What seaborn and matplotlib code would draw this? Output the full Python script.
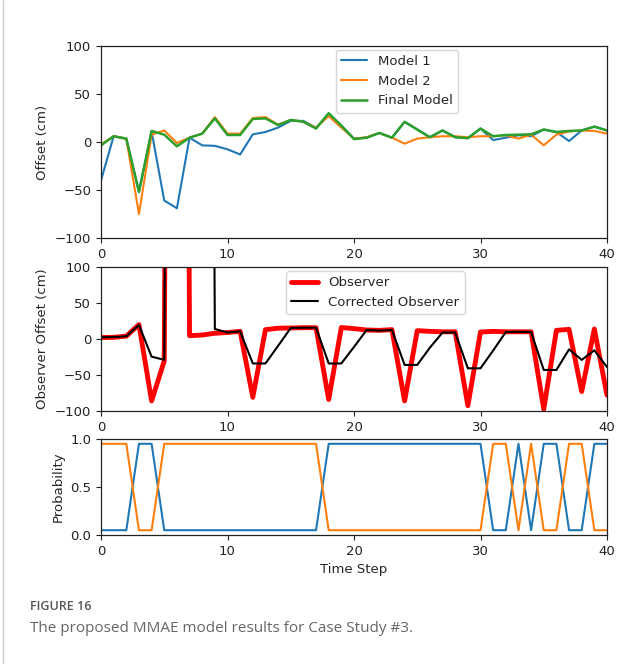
import numpy as np
import pandas as pd
import matplotlib
matplotlib.use("Agg")
import matplotlib.pyplot as plt
import seaborn as sns

# ---------------- data ----------------
t = list(range(41))

model1 = [-40, 6, 3.5, -52, 11, -61, -69, 4.5, -3.5, -4, -7.6, -13, 8, 10.4, 15, 22, 22, 14.6, 29.5, 17,
          3.5, 4.5, 9.4, 4.5, 21, 13, 5, 12, 5, 4, 14, 2, 4.5, 7, 6, 13, 10.4, 1, 12, 16, 12]
model2 = [-2.4, 6, 3.5, -75, 7.6, 12, -1, 4.5, 8.7, 26, 8.7, 8.7, 25, 26, 18, 23, 21, 15, 27, 15,
          3.5, 5, 9.4, 4.5, -1.7, 3.5, 5, 6, 6, 5, 6, 6, 7, 3.5, 7.6, -3.5, 7.6, 11, 12, 11.5, 8.7]
final_model = [-3.5, 6, 3.5, -52, 11.5, 7.6, -4.5, 4.5, 8.7, 24.6, 7.3, 7.3, 24, 24.6, 17.7, 23, 21, 14, 30, 17,
               3, 4.5, 9.4, 4.5, 21, 13, 5, 12, 5, 4, 14, 6, 7.3, 7.6, 8, 13, 10.4, 11.5, 12, 16, 12]

observer = [2, 2.3, 4, 20, -86, -30.5, 3000, 4.6, 5.5, 8, 9, 10.6, -81, 13, 15, 15.3, 15.7, 15.7, -84, 16,
            14.4, 12.5, 12, 13, -86, 11.6, 10.6, 10, 10, -92.6, 9.7, 10.6, 10, 10, 10, -97.7, 12, 13.4, -73, 13.9, -78]
corrected = [2.3, 2.8, 3.7, 19.4, -24.5, -29, 3000, 3000, 3000, 13.9, 9, 10.6, -34, -34, -9.5, 15.3, 15.7, 15.7, -34, -34,
             -11, 12.5, 11.6, 12.5, -36, -36, -12, 9, 9, -40.7, -40.7, -16, 9.7, 10, 9.7, -43, -43, -14.4, -29, -15.7, -39]

prob1 = [0.05, 0.05, 0.05, 0.95, 0.95, 0.05, 0.05, 0.05, 0.05, 0.05, 0.05, 0.05, 0.05, 0.05, 0.05, 0.05, 0.05, 0.05,
         0.95, 0.95, 0.95, 0.95, 0.95, 0.95, 0.95, 0.95, 0.95, 0.95, 0.95, 0.95, 0.95,
         0.05, 0.05, 0.95, 0.05, 0.95, 0.95, 0.05, 0.05, 0.95, 0.95]
prob2 = [0.95, 0.95, 0.95, 0.05, 0.05, 0.95, 0.95, 0.95, 0.95, 0.95, 0.95, 0.95, 0.95, 0.95, 0.95, 0.95, 0.95, 0.95,
         0.05, 0.05, 0.05, 0.05, 0.05, 0.05, 0.05, 0.05, 0.05, 0.05, 0.05, 0.05, 0.05,
         0.95, 0.95, 0.05, 0.95, 0.05, 0.05, 0.95, 0.95, 0.05, 0.05]

fig_label = "FIGURE 16"
caption = "The proposed MMAE model results for Case Study #3."

# ---------------- style ----------------
sns.set_style("ticks")
plt.rcParams['font.family'] = ['DejaVu Sans']
plt.rcParams['font.size'] = 9.5
plt.rcParams['axes.edgecolor'] = '#222222'
plt.rcParams['xtick.color'] = '#222222'
plt.rcParams['ytick.color'] = '#222222'

W, H = 638, 664
fig = plt.figure(figsize=(W / 100, H / 100), dpi=100)

def axes_px(left, top, right, bottom):
    return fig.add_axes([left / W, 1 - bottom / H, (right - left) / W, (bottom - top) / H])

ax1 = axes_px(101, 46, 607, 238)
ax2 = axes_px(101, 267, 607, 411)
ax3 = axes_px(101, 439, 607, 535)

blue, orange, green = '#1f77b4', '#ff7f0e', '#2ca02c'

df1 = pd.DataFrame({"t": t, "Model 1": model1, "Model 2": model2, "Final Model": final_model})
sns.lineplot(data=df1, x="t", y="Model 1", ax=ax1, color=blue, lw=1.5, label="Model 1")
sns.lineplot(data=df1, x="t", y="Model 2", ax=ax1, color=orange, lw=1.5, label="Model 2")
sns.lineplot(data=df1, x="t", y="Final Model", ax=ax1, color=green, lw=1.8, label="Final Model")
ax1.set_xlim(0, 40)
ax1.set_ylim(-100, 100)
ax1.set_yticks([-100, -50, 0, 50, 100])
ax1.set_xticks([0, 10, 20, 30, 40])
ax1.set_xlabel("")
ax1.set_ylabel("Offset (cm)")
ax1.legend(loc="upper left", bbox_to_anchor=(0.464, 0.98), borderaxespad=0, frameon=True)

df2 = pd.DataFrame({"t": t, "Observer": observer, "Corrected": corrected})
sns.lineplot(data=df2, x="t", y="Observer", ax=ax2, color='red', lw=3.5, label="Observer")
sns.lineplot(data=df2, x="t", y="Corrected", ax=ax2, color='black', lw=1.5, label="Corrected Observer")
ax2.set_xlim(0, 40)
ax2.set_ylim(-100, 100)
ax2.set_yticks([-100, -50, 0, 50, 100])
ax2.set_xticks([0, 10, 20, 30, 40])
ax2.set_xlabel("")
ax2.set_ylabel("Observer Offset (cm)")
ax2.legend(loc="upper left", bbox_to_anchor=(0.366, 0.972), borderaxespad=0, frameon=True)

df3 = pd.DataFrame({"t": t, "p1": prob1, "p2": prob2})
sns.lineplot(data=df3, x="t", y="p1", ax=ax3, color=blue, lw=1.5)
sns.lineplot(data=df3, x="t", y="p2", ax=ax3, color=orange, lw=1.5)
ax3.set_xlim(0, 40)
ax3.set_ylim(0, 1)
ax3.set_yticks([0.0, 0.5, 1.0])
ax3.set_xticks([0, 10, 20, 30, 40])
ax3.set_xlabel("Time Step")
ax3.set_ylabel("Probability")

for ax in (ax1, ax2, ax3):
    for s in ax.spines.values():
        s.set_visible(True)
        s.set_linewidth(0.9)

# caption
fig.text(30 / W, 1 - 606 / H, fig_label, fontsize=9, color='#555555', fontweight='semibold',
         family='Open Sans', va='center', ha='left')
fig.text(30 / W, 1 - 629 / H, caption, fontsize=11, color='#666666',
         family='Open Sans', va='center', ha='left')
fig.add_artist(plt.Line2D([3 / W, 3 / W], [0, 1], transform=fig.transFigure, color='#cccccc', lw=1))

fig.savefig("out.png", dpi=100)
